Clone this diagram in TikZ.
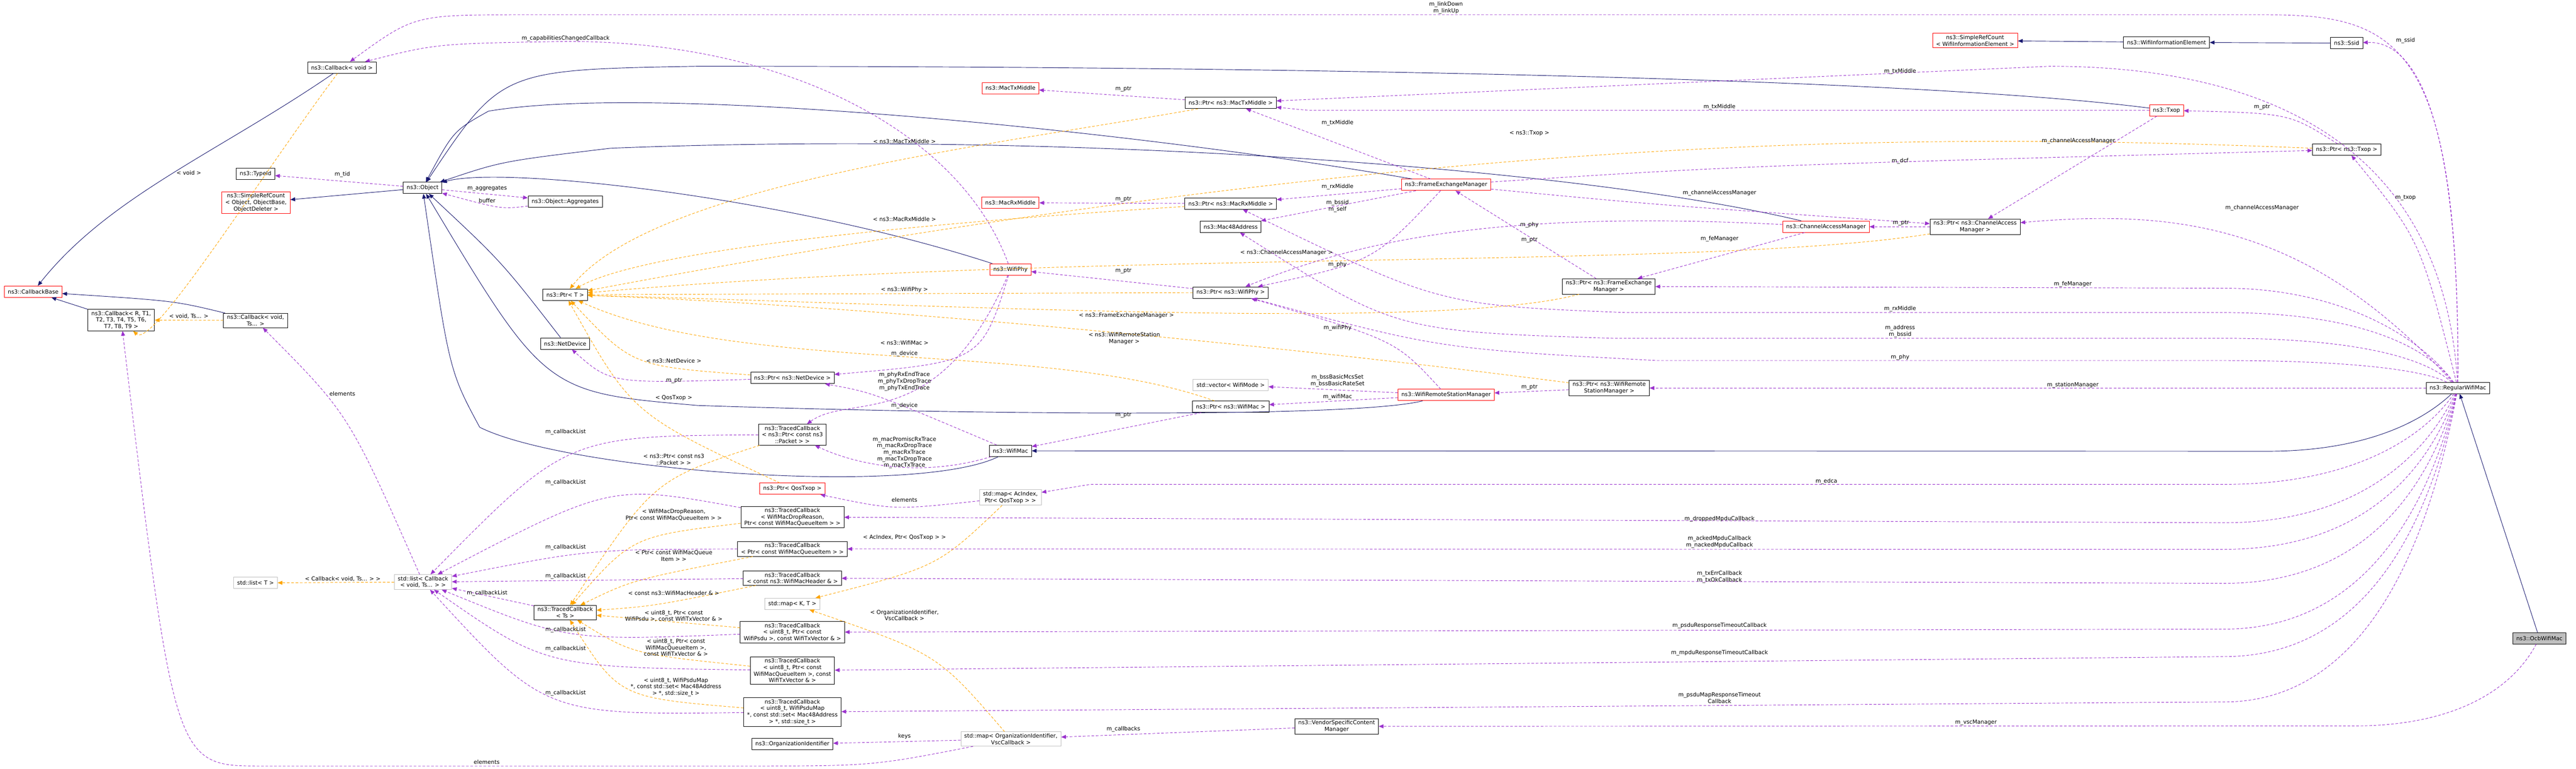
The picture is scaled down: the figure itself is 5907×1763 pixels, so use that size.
\documentclass[tikz,border=0pt]{standalone}
\usepackage{fontspec}
\setmainfont{DejaVu Sans}
\usetikzlibrary{arrows.meta}
\definecolor{inhcol}{HTML}{191970}
\definecolor{usecol}{HTML}{9A32CD}
\definecolor{tplcol}{HTML}{FFA500}
\definecolor{boxred}{HTML}{FF0000}
\definecolor{boxgrey}{HTML}{BFBFBF}
\begin{document}
\begin{tikzpicture}[x=1pt, y=-1pt, font=\fontsize{12.7}{15}\selectfont]
        \tikzstyle{cls} = [draw, black, text=black, line width=1pt, inner xsep=8pt, inner ysep=4pt, minimum height=26pt, align=center]
        \tikzstyle{redcls} = [cls, draw=boxred]
        \tikzstyle{stdcls} = [cls, draw=boxgrey]
        \tikzstyle{lbl} = [inner sep=0pt, align=center, text=black]
        \tikzstyle{inh} = [draw=inhcol, -{Triangle[length=11pt, width=9pt]}, line width=1.1pt]
        \tikzstyle{use} = [draw=usecol, dash pattern=on 6pt off 4pt, -{Triangle[length=11pt, width=9pt]}, line width=1.1pt]
        \tikzstyle{tpl} = [draw=tplcol, dash pattern=on 6pt off 4pt, -{Triangle[length=11pt, width=9pt]}, line width=1.1pt]

        \useasboundingbox (0,0) rectangle (5907,1763);

        % classes, left part
        \node[cls] (cbvoid) at (784,155) {ns3::Callback< void >};
        \node[redcls] (cbbase) at (76,669) {ns3::CallbackBase};
        \node[cls] (typeid) at (586,399) {ns3::TypeId};
        \node[redcls] (srcobj) at (587,465) {ns3::SimpleRefCount\\< Object, ObjectBase,\\ObjectDeleter >};
        \node[cls] (object) at (969,431) {ns3::Object};
        \node[cls] (aggr) at (1296,462) {ns3::Object::Aggregates};
        \node[cls] (ptrt) at (1296,676) {ns3::Ptr< T >};
        \node[cls] (cbrt) at (278,734) {ns3::Callback< R, T1,\\T2, T3, T4, T5, T6,\\T7, T8, T9 >};
        \node[cls] (cbvts) at (586,735) {ns3::Callback< void,\\Ts... >};
        \node[cls] (netdev) at (1296,788) {ns3::NetDevice};
        \node[stdcls] (listt) at (586,1337) {std::list< T >};
        \node[stdcls] (listcb) at (970,1335) {std::list< Callback\\< void, Ts... > >};
        \node[cls] (tcts) at (1296,1405) {ns3::TracedCallback\\< Ts >};

        % classes, middle part
        \node[redcls] (mactx) at (2317,202) {ns3::MacTxMiddle};
        \node[cls] (ptrmactx) at (2822,236) {ns3::Ptr< ns3::MacTxMiddle >};
        \node[redcls] (macrx) at (2317,465) {ns3::MacRxMiddle};
        \node[cls] (ptrmacrx) at (2822,467) {ns3::Ptr< ns3::MacRxMiddle >};
        \node[cls] (mac48) at (2822,520) {ns3::Mac48Address};
        \node[redcls] (wifiphy) at (2317,618) {ns3::WifiPhy};
        \node[cls] (ptrphy) at (2822,671) {ns3::Ptr< ns3::WifiPhy >};
        \node[cls] (ptrnetdev) at (1817,867) {ns3::Ptr< ns3::NetDevice >};
        \node[stdcls] (vecmode) at (2822,883) {std::vector< WifiMode >};
        \node[cls] (ptrmac) at (2822,933) {ns3::Ptr< ns3::WifiMac >};
        \node[cls] (tcpkt) at (1817,997) {ns3::TracedCallback\\< ns3::Ptr< const ns3\\::Packet > >};
        \node[cls] (wifimac) at (2317,1034) {ns3::WifiMac};
        \node[redcls] (ptrqos) at (1817,1121) {ns3::Ptr< QosTxop >};
        \node[stdcls] (mapac) at (2317,1141) {std::map< AcIndex,\\Ptr< QosTxop > >};
        \node[cls] (tcdrop) at (1817,1186) {ns3::TracedCallback\\< WifiMacDropReason,\\Ptr< const WifiMacQueueItem > >};
        \node[cls] (tcitem) at (1817,1259) {ns3::TracedCallback\\< Ptr< const WifiMacQueueItem > >};
        \node[cls] (tchdr) at (1817,1326) {ns3::TracedCallback\\< const ns3::WifiMacHeader \& >};
        \node[stdcls] (mapkt) at (1817,1385) {std::map< K, T >};
        \node[cls] (tcpsdu) at (1817,1450) {ns3::TracedCallback\\< uint8\_t, Ptr< const\\WifiPsdu >, const WifiTxVector \& >};
        \node[cls] (tcmpdu) at (1817,1538) {ns3::TracedCallback\\< uint8\_t, Ptr< const\\WifiMacQueueItem >, const\\WifiTxVector \& >};
        \node[cls] (tcmap) at (1817,1633) {ns3::TracedCallback\\< uint8\_t, WifiPsduMap\\*, const std::set< Mac48Address\\> *, std::size\_t >};
        \node[cls] (orgid) at (1817,1707) {ns3::OrganizationIdentifier};
        \node[stdcls] (maporg) at (2318,1695) {std::map< OrganizationIdentifier,\\VscCallback >};
        \node[cls] (vscm) at (3065,1666) {ns3::VendorSpecificContent\\Manager};

        % classes, right part
        \node[redcls] (fem) at (3316,424) {ns3::FrameExchangeManager};
        \node[redcls] (cam) at (4187,520) {ns3::ChannelAccessManager};
        \node[cls] (ptrcam) at (4529,520) {ns3::Ptr< ns3::ChannelAccess\\Manager >};
        \node[cls] (ptrfem) at (3689,657) {ns3::Ptr< ns3::FrameExchange\\Manager >};
        \node[cls] (ptrwrsm) at (3690,890) {ns3::Ptr< ns3::WifiRemote\\StationManager >};
        \node[redcls] (wrsm) at (3316,906) {ns3::WifiRemoteStationManager};
        \node[redcls] (srcwie) at (4529,93) {ns3::SimpleRefCount\\< WifiInformationElement >};
        \node[cls] (wie) at (4968,97) {ns3::WifiInformationElement};
        \node[cls] (ssid) at (5381,99) {ns3::Ssid};
        \node[redcls] (txop) at (4968,253) {ns3::Txop};
        \node[cls] (ptrtxop) at (5381,343) {ns3::Ptr< ns3::Txop >};
        \node[cls] (rwm) at (5636,890) {ns3::RegularWifiMac};
        \node[cls, fill=boxgrey] (ocb) at (5823,1464) {ns3::OcbWifiMac};

        % inheritance
        \draw[inh] (cbvoid) .. controls (500,350) and (250,450) .. (cbbase);
        \draw[inh] (cbrt) -- (cbbase);
        \draw[inh] (cbvts) .. controls (400,690) .. (cbbase);
        \draw[inh] (object) -- (srcobj);
        \draw[inh] (netdev) .. controls (1150,600) .. (object);
        \draw[inh] (wifiphy) .. controls (1800,450) and (1150,380) .. (object);
        \draw[inh] (fem) .. controls (2600,300) and (1500,190) .. (1120,255) .. controls (1040,300) .. (object);
        \draw[inh] (cam) .. controls (3600,380) and (2400,300) .. (1400,340) .. controls (1150,370) .. (object);
        \draw[inh] (txop) .. controls (4400,180) and (3000,152) .. (1600,152) .. controls (1150,160) .. (object);
        \draw[inh] (wrsm) .. controls (3100,960) and (2200,950) .. (1600,930) .. controls (1250,900) .. (object);
        \draw[inh] (wifimac) .. controls (2100,1140) and (1300,1080) .. (1100,980) .. controls (1030,850) .. (object);
        \draw[inh] (rwm) .. controls (5540,980) and (5400,1035) .. (5200,1035) -- (wifimac);
        \draw[inh] (ocb) -- (rwm);
        \draw[inh] (wie) -- (srcwie);
        \draw[inh] (ssid) -- (wie);

        % templates
        \draw[tpl] (cbvoid) .. controls (600,400) and (350,800) .. (cbrt);
        \draw[tpl] (cbvts) -- (cbrt);
        \draw[tpl] (listcb) -- (listt);
        \draw[tpl] (ptrmactx) .. controls (2300,330) and (1500,420) .. (ptrt);
        \draw[tpl] (ptrmacrx) .. controls (2300,500) and (1500,560) .. (ptrt);
        \draw[tpl] (ptrcam) .. controls (3900,620) and (2500,570) .. (ptrt);
        \draw[tpl] (ptrphy) -- (ptrt);
        \draw[tpl] (ptrfem) .. controls (3300,760) and (2200,700) .. (ptrt);
        \draw[tpl] (ptrwrsm) .. controls (3000,800) and (2000,700) .. (ptrt);
        \draw[tpl] (ptrmac) .. controls (2400,780) and (1700,860) .. (ptrt);
        \draw[tpl] (ptrnetdev) .. controls (1450,840) .. (ptrt);
        \draw[tpl] (ptrqos) .. controls (1450,950) .. (ptrt);
        \draw[tpl] (ptrtxop) .. controls (4400,304) and (3300,300) .. (ptrt);
        \draw[tpl] (tcpkt) .. controls (1500,1100) .. (tcts);
        \draw[tpl] (tcdrop) .. controls (1450,1230) .. (tcts);
        \draw[tpl] (tcitem) .. controls (1450,1330) .. (tcts);
        \draw[tpl] (tchdr) .. controls (1500,1390) .. (tcts);
        \draw[tpl] (tcpsdu) -- (tcts);
        \draw[tpl] (tcmpdu) .. controls (1450,1500) .. (tcts);
        \draw[tpl] (tcmap) .. controls (1420,1600) .. (tcts);
        \draw[tpl] (mapac) .. controls (2150,1300) .. (mapkt);
        \draw[tpl] (maporg) .. controls (2150,1500) .. (mapkt);

        % members
        \draw[use] (object) -- (typeid);
        \draw[use] (object) -- (aggr);
        \draw[use] (aggr) .. controls (1150,480) .. (object);
        \draw[use] (rwm) .. controls (5640,100) and (5500,34) .. (5200,34) -- (1200,34) .. controls (950,34) .. (cbvoid);
        \draw[use] (wifiphy) .. controls (2200,300) and (1800,95) .. (1300,95) .. controls (1000,100) .. (cbvoid);
        \draw[use] (ptrmactx) -- (mactx);
        \draw[use] (ptrmacrx) -- (macrx);
        \draw[use] (ptrphy) -- (wifiphy);
        \draw[use] (ptrmac) -- (wifimac);
        \draw[use] (ptrnetdev) .. controls (1400,880) .. (netdev);
        \draw[use] (ptrfem) -- (fem);
        \draw[use] (ptrwrsm) -- (wrsm);
        \draw[use] (ptrcam) -- (cam);
        \draw[use] (ptrtxop) .. controls (5250,260) .. (txop);
        \draw[use] (wifiphy) .. controls (2250,830) .. (ptrnetdev);
        \draw[use] (wifimac) .. controls (2000,900) .. (ptrnetdev);
        \draw[use] (wifiphy) .. controls (2150,1000) and (1950,900) .. (tcpkt);
        \draw[use] (wifimac) .. controls (2100,1100) and (1950,1060) .. (tcpkt);
        \draw[use] (mapac) .. controls (2050,1170) .. (ptrqos);
        \draw[use] (listcb) .. controls (800,950) .. (cbvts);
        \draw[use] (maporg) -- (orgid);
        \draw[use] (vscm) -- (maporg);
        \draw[use] (maporg) .. controls (2000,1757) .. (1700,1757) -- (600,1757) .. controls (400,1757) .. (cbrt);
        \draw[use] (tcpkt) .. controls (1300,1000) .. (listcb);
        \draw[use] (tcdrop) .. controls (1400,1110) .. (listcb);
        \draw[use] (tcitem) .. controls (1350,1260) .. (listcb);
        \draw[use] (tchdr) -- (listcb);
        \draw[use] (tcts) -- (listcb);
        \draw[use] (tcpsdu) .. controls (1300,1470) .. (listcb);
        \draw[use] (tcmpdu) .. controls (1250,1530) .. (listcb);
        \draw[use] (tcmap) .. controls (1250,1640) .. (listcb);
        \draw[use] (fem) -- (ptrmactx);
        \draw[use] (fem) -- (ptrmacrx);
        \draw[use] (fem) -- (mac48);
        \draw[use] (fem) .. controls (3150,600) .. (ptrphy);
        \draw[use] (cam) .. controls (3400,480) and (3100,560) .. (ptrphy);
        \draw[use] (wrsm) .. controls (3200,780) .. (ptrphy);
        \draw[use] (wrsm) -- (ptrmac);
        \draw[use] (wrsm) -- (vecmode);
        \draw[use] (fem) .. controls (3800,470) .. (ptrcam);
        \draw[use] (fem) .. controls (4000,380) .. (ptrtxop);
        \draw[use] (cam) -- (ptrfem);
        \draw[use] (txop) -- (ptrcam);
        \draw[use] (txop) .. controls (4400,253) .. (3000,253) -- (ptrmactx);
        \draw[use] (rwm) .. controls (5300,520) and (5000,478) .. (ptrcam);
        \draw[use] (rwm) .. controls (5550,550) .. (ptrtxop);
        \draw[use] (rwm) .. controls (5640,300) and (5550,93) .. (ssid);
        \draw[use] (rwm) .. controls (5600,300) and (5150,152) .. (4700,152) -- (ptrmactx);
        \draw[use] (rwm) .. controls (5540,760) and (5350,661) .. (5100,661) -- (ptrfem);
        \draw[use] (rwm) .. controls (5560,790) and (5400,717) .. (5100,717) -- (3730,717) .. controls (3300,700) .. (ptrmacrx);
        \draw[use] (rwm) .. controls (5560,820) and (5400,776) .. (5100,776) -- (3700,776) .. controls (3200,760) .. (mac48);
        \draw[use] (rwm) .. controls (5560,850) and (5400,827) .. (5100,827) -- (3800,827) .. controls (3300,800) .. (ptrphy);
        \draw[use] (rwm) -- (ptrwrsm);
        \draw[use] (rwm) .. controls (5560,1000) and (5400,1111) .. (5100,1111) -- (2500,1111) -- (mapac);
        \draw[use] (rwm) .. controls (5560,1050) and (5400,1199) .. (5100,1199) -- (tcdrop);
        \draw[use] (rwm) .. controls (5560,1100) and (5400,1260) .. (5100,1260) -- (tcitem);
        \draw[use] (rwm) .. controls (5560,1150) and (5400,1338) .. (5100,1338) -- (tchdr);
        \draw[use] (rwm) .. controls (5560,1200) and (5400,1443) .. (5100,1443) -- (tcpsdu);
        \draw[use] (rwm) .. controls (5560,1250) and (5400,1506) .. (5100,1506) -- (tcmpdu);
        \draw[use] (rwm) .. controls (5560,1300) and (5400,1610) .. (5100,1610) -- (tcmap);
        \draw[use] (ocb) .. controls (5750,1600) and (5600,1665) .. (5400,1665) -- (vscm);

        % labels
        \node[lbl] (l01) at (785,400) {m\_tid};
        \node[lbl] (l02) at (1117,432) {m\_aggregates};
        \node[lbl] (l03) at (1117,460) {buffer};
        \node[lbl] (l04) at (433,396) {< void >};
        \node[lbl] (l05) at (433,726) {< void, Ts... >};
        \node[lbl] (l06) at (1297,88) {m\_capabilitiesChangedCallback};
        \node[lbl] (l07) at (785,903) {elements};
        \node[lbl] (l08) at (786,1328) {< Callback< void, Ts... > >};
        \foreach \y in {991,1106,1255,1322,1444,1488,1590}
            \node[lbl] at (1297,\y) {m\_callbackList};
        \node[lbl] (l09) at (1117,1360) {m\_callbackList};
        \node[lbl] (l10) at (1116,1748) {elements};
        \node[lbl] (l11) at (3316,18) {m\_linkDown\\m\_linkUp};
        \node[lbl] (l12) at (2576,204) {m\_ptr};
        \node[lbl] (l13) at (2576,457) {m\_ptr};
        \node[lbl] (l14) at (2576,621) {m\_ptr};
        \node[lbl] (l15) at (2074,324) {< ns3::MacTxMiddle >};
        \node[lbl] (l16) at (2074,503) {< ns3::MacRxMiddle >};
        \node[lbl] (l17) at (2074,664) {< ns3::WifiPhy >};
        \node[lbl] (l18) at (2583,724) {< ns3::FrameExchangeManager >};
        \node[lbl] (l19) at (2578,776) {< ns3::WifiRemoteStation\\Manager >};
        \node[lbl] (l20) at (2074,786) {< ns3::WifiMac >};
        \node[lbl] (l21) at (2074,811) {m\_device};
        \node[lbl] (l22) at (2074,875) {m\_phyRxEndTrace\\m\_phyTxDropTrace\\m\_phyTxEndTrace};
        \node[lbl] (l23) at (1545,828) {< ns3::NetDevice >};
        \node[lbl] (l24) at (1546,873) {m\_ptr};
        \node[lbl] (l25) at (1545,913) {< QosTxop >};
        \node[lbl] (l26) at (2074,930) {m\_device};
        \node[lbl] (l27) at (2576,952) {m\_ptr};
        \node[lbl] (l28) at (2074,1038) {m\_macPromiscRxTrace\\m\_macRxDropTrace\\m\_macRxTrace\\m\_macTxDropTrace\\m\_macTxTrace};
        \node[lbl] (l29) at (1545,1054) {< ns3::Ptr< const ns3\\::Packet > >};
        \node[lbl] (l30) at (2074,1146) {elements};
        \node[lbl] (l31) at (1545,1181) {< WifiMacDropReason,\\Ptr< const WifiMacQueueItem > >};
        \node[lbl] (l32) at (2074,1233) {< AcIndex, Ptr< QosTxop > >};
        \node[lbl] (l33) at (1545,1275) {< Ptr< const WifiMacQueue\\Item > >};
        \node[lbl] (l34) at (1545,1360) {< const ns3::WifiMacHeader \& >};
        \node[lbl] (l35) at (2074,1411) {< OrganizationIdentifier,\\VscCallback >};
        \node[lbl] (l36) at (1545,1413) {< uint8\_t, Ptr< const\\WifiPsdu >, const WifiTxVector \& >};
        \node[lbl] (l37) at (1550,1485) {< uint8\_t, Ptr< const\\WifiMacQueueItem >,\\const WifiTxVector \& >};
        \node[lbl] (l38) at (1550,1576) {< uint8\_t, WifiPsduMap\\*, const std::set< Mac48Address\\> *, std::size\_t >};
        \node[lbl] (l39) at (2074,1689) {keys};
        \node[lbl] (l40) at (2576,1672) {m\_callbacks};
        \node[lbl] (l41) at (4357,164) {m\_txMiddle};
        \node[lbl] (l42) at (3943,245) {m\_txMiddle};
        \node[lbl] (l43) at (3067,282) {m\_txMiddle};
        \node[lbl] (l44) at (3507,305) {< ns3::Txop >};
        \node[lbl] (l45) at (4357,369) {m\_dcf};
        \node[lbl] (l46) at (3067,428) {m\_rxMiddle};
        \node[lbl] (l47) at (3067,473) {m\_bssid\\m\_self};
        \node[lbl] (l48) at (3943,443) {m\_channelAccessManager};
        \node[lbl] (l49) at (3507,516) {m\_phy};
        \node[lbl] (l50) at (4359,512) {m\_ptr};
        \node[lbl] (l51) at (3507,551) {m\_ptr};
        \node[lbl] (l52) at (3943,548) {m\_feManager};
        \node[lbl] (l53) at (2950,580) {< ns3::ChannelAccessManager >};
        \node[lbl] (l54) at (3067,607) {m\_phy};
        \node[lbl] (l55) at (4357,708) {m\_rxMiddle};
        \node[lbl] (l56) at (3067,752) {m\_wifiPhy};
        \node[lbl] (l57) at (4357,760) {m\_address\\m\_bssid};
        \node[lbl] (l58) at (4357,820) {m\_phy};
        \node[lbl] (l59) at (3067,873) {m\_bssBasicMcsSet\\m\_bssBasicRateSet};
        \node[lbl] (l60) at (3507,888) {m\_ptr};
        \node[lbl] (l61) at (3067,910) {m\_wifiMac};
        \node[lbl] (l62) at (5516,93) {m\_ssid};
        \node[lbl] (l63) at (5187,246) {m\_ptr};
        \node[lbl] (l64) at (4766,323) {m\_channelAccessManager};
        \node[lbl] (l65) at (5516,454) {m\_txop};
        \node[lbl] (l66) at (5187,477) {m\_channelAccessManager};
        \node[lbl] (l67) at (4753,652) {m\_feManager};
        \node[lbl] (l68) at (4753,883) {m\_stationManager};
        \node[lbl] (l69) at (4188,1104) {m\_edca};
        \node[lbl] (l70) at (3943,1191) {m\_droppedMpduCallback};
        \node[lbl] (l71) at (3943,1243) {m\_ackedMpduCallback\\m\_nackedMpduCallback};
        \node[lbl] (l72) at (3943,1323) {m\_txErrCallback\\m\_txOkCallback};
        \node[lbl] (l73) at (3943,1435) {m\_psduResponseTimeoutCallback};
        \node[lbl] (l74) at (3943,1498) {m\_mpduResponseTimeoutCallback};
        \node[lbl] (l75) at (3943,1601) {m\_psduMapResponseTimeout\\Callback};
        \node[lbl] (l76) at (4531,1657) {m\_vscManager};
    \end{tikzpicture}
\end{document}
